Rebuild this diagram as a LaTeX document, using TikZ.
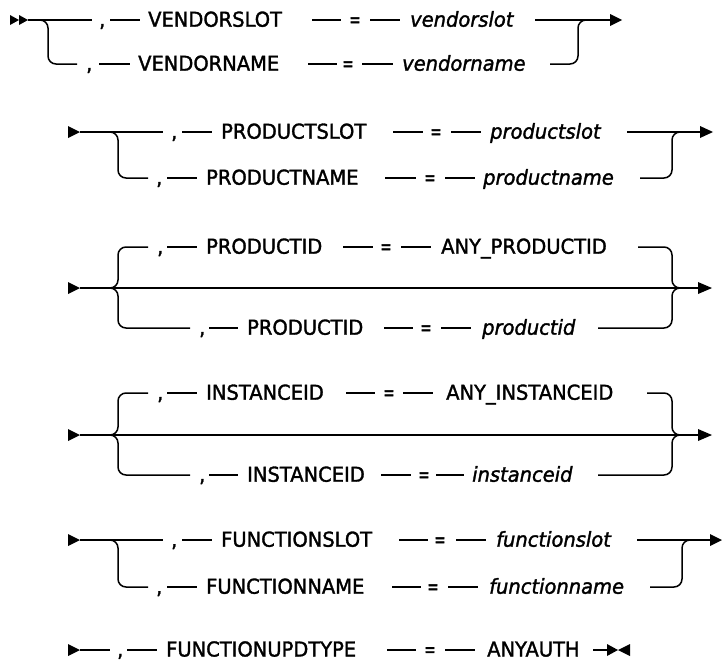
\documentclass[tikz,border=0pt]{standalone}
\usepackage{graphicx}
\usepackage{fontspec}
\newfontfamily\diag{DejaVu Sans}[FakeStretch=0.95,FakeBold=1.6]
\newcommand{\eqsign}{\scalebox{0.68}[1]{=}}
\begin{document}
\begin{tikzpicture}[x=1pt,y=-1pt,
  ln/.style={line width=1.5pt},
  seg/.style={line width=1.3pt},
  brl/.style={line width=1.5pt, rounded corners=8pt},
  txt/.style={anchor=base west, inner sep=0pt, font=\diag\fontsize{20.5}{24}\selectfont},
  itx/.style={anchor=base west, inner sep=0pt, font=\diag\fontsize{20.5}{24}\selectfont\itshape},
  eqs/.style={anchor=base, inner sep=0pt, font=\diag\fontsize{20.5}{24}\selectfont}]
\useasboundingbox (0,0) rectangle (722,662);

% ---------- Row 1 ----------
\fill (10,15) -- (19,20) -- (10,25) -- cycle;
\fill (19,15) -- (28,20) -- (19,25) -- cycle;
\draw[ln] (28,20) -- (92,20);
\draw[brl] (40,20) -| (48,64) -- (77,64);
\node[txt] (vsC) at (99,26.7) {,};
\draw[seg] (110,20) -- (140,20);
\node[txt] (vsK) at (148,26.7) {VENDORSLOT};
\draw[seg] (312,20) -- (341,20);
\node[eqs] (vsE) at (355,26.7) {\eqsign};
\draw[seg] (370,20) -- (400,20);
\node[itx] (vsV) at (410,26.7) {vendorslot};
\node[txt] (vnC) at (86,70.7) {,};
\draw[seg] (99,64) -- (130,64);
\node[txt] (vnK) at (138,70.7) {VENDORNAME};
\draw[seg] (308,64) -- (337,64);
\node[eqs] (vnE) at (348,70.7) {\eqsign};
\draw[seg] (362,64) -- (393,64);
\node[itx] (vnV) at (402,70.7) {vendorname};
\draw[ln] (535,20) -- (610,20);
\draw[brl] (550,64) -| (578,20) -- (590,20);
\fill (610,14) -- (622,20) -- (610,26) -- cycle;

% ---------- Row 2 ----------
\fill (68,126) -- (80,132) -- (68,138) -- cycle;
\draw[ln] (80,132) -- (163,132);
\draw[brl] (110,132) -| (118,178) -- (148,178);
\node[txt] (psC) at (171,138.7) {,};
\draw[seg] (182,132) -- (212,132);
\node[txt] (psK) at (221,138.7) {PRODUCTSLOT};
\draw[seg] (393,132) -- (423,132);
\node[eqs] (psE) at (436,138.7) {\eqsign};
\draw[seg] (451,132) -- (481,132);
\node[itx] (psV) at (490,138.7) {productslot};
\node[txt] (pnC) at (156,184.7) {,};
\draw[seg] (167,178) -- (197,178);
\node[txt] (pnK) at (206,184.7) {PRODUCTNAME};
\draw[seg] (385,178) -- (416,178);
\node[eqs] (pnE) at (430,184.7) {\eqsign};
\draw[seg] (445,178) -- (475,178);
\node[itx] (pnV) at (483,184.7) {productname};
\draw[ln] (627,132) -- (700,132);
\draw[brl] (640,178) -| (672,132) -- (684,132);
\fill (700,126) -- (713,132) -- (700,138) -- cycle;

% ---------- Row 3 ----------
\fill (68,282) -- (80,288) -- (68,294) -- cycle;
\draw[ln] (80,288) -- (698,288);
\draw[brl] (108,288) -| (118,247) -- (148,247);
\draw[brl] (108,288) -| (118,328) -- (190,328);
\node[txt] (piC) at (157,253.7) {,};
\draw[seg] (167,247) -- (197,247);
\node[txt] (piK) at (206,253.7) {PRODUCTID};
\draw[seg] (343,247) -- (373,247);
\node[eqs] (piE) at (386,253.7) {\eqsign};
\draw[seg] (401,247) -- (431,247);
\node[txt] (piV) at (441,253.7) {ANY\_PRODUCTID};
\node[txt] (pjC) at (199,334.7) {,};
\draw[seg] (209,328) -- (238,328);
\node[txt] (pjK) at (247,334.7) {PRODUCTID};
\draw[seg] (384,328) -- (413,328);
\node[eqs] (pjE) at (426,334.7) {\eqsign};
\draw[seg] (441,328) -- (471,328);
\node[itx] (pjV) at (482,334.7) {productid};
\draw[brl] (638,247) -| (672,288) -- (684,288);
\draw[brl] (598,328) -| (672,288) -- (684,288);
\fill (698,282) -- (712,288) -- (698,294) -- cycle;

% ---------- Row 4 ----------
\fill (68,429) -- (80,435) -- (68,441) -- cycle;
\draw[ln] (80,435) -- (698,435);
\draw[brl] (108,435) -| (118,393) -- (148,393);
\draw[brl] (108,435) -| (118,475) -- (190,475);
\node[txt] (iiC) at (157,399.7) {,};
\draw[seg] (167,393) -- (197,393);
\node[txt] (iiK) at (206,399.7) {INSTANCEID};
\draw[seg] (346,393) -- (375,393);
\node[eqs] (iiE) at (389,399.7) {\eqsign};
\draw[seg] (403,393) -- (433,393);
\node[txt] (iiV) at (446,399.7) {ANY\_INSTANCEID};
\node[txt] (ijC) at (199,481.7) {,};
\draw[seg] (209,475) -- (238,475);
\node[txt] (ijK) at (247,481.7) {INSTANCEID};
\draw[seg] (381,475) -- (411,475);
\node[eqs] (ijE) at (424,481.7) {\eqsign};
\draw[seg] (436,475) -- (464,475);
\node[itx] (ijV) at (472,481.7) {instanceid};
\draw[brl] (647,393) -| (672,435) -- (684,435);
\draw[brl] (598,475) -| (672,435) -- (684,435);
\fill (698,429) -- (712,435) -- (698,441) -- cycle;

% ---------- Row 5 ----------
\fill (68,534) -- (80,540) -- (68,546) -- cycle;
\draw[ln] (80,540) -- (163,540);
\draw[brl] (110,540) -| (118,587) -- (148,587);
\node[txt] (fsC) at (171,546.7) {,};
\draw[seg] (182,540) -- (212,540);
\node[txt] (fsK) at (221,546.7) {FUNCTIONSLOT};
\draw[seg] (399,540) -- (428,540);
\node[eqs] (fsE) at (440,546.7) {\eqsign};
\draw[seg] (456,540) -- (486,540);
\node[itx] (fsV) at (496,546.7) {functionslot};
\node[txt] (fnC) at (156,593.7) {,};
\draw[seg] (167,587) -- (197,587);
\node[txt] (fnK) at (206,593.7) {FUNCTIONNAME};
\draw[seg] (392,587) -- (421,587);
\node[eqs] (fnE) at (433,593.7) {\eqsign};
\draw[seg] (448,587) -- (478,587);
\node[itx] (fnV) at (489,593.7) {functionname};
\draw[ln] (637,540) -- (710,540);
\draw[brl] (650,587) -| (682,540) -- (694,540);
\fill (710,534) -- (722,540) -- (710,546) -- cycle;

% ---------- Row 6 ----------
\fill (68,644) -- (80,650) -- (68,656) -- cycle;
\draw[ln] (80,650) -- (110,650);
\node[txt] (fuC) at (117,656.5) {,};
\draw[seg] (127,650) -- (157,650);
\node[txt] (fuK) at (166,656.5) {FUNCTIONUPDTYPE};
\draw[seg] (387,650) -- (416,650);
\node[eqs] (fuE) at (430,656.5) {\eqsign};
\draw[seg] (445,650) -- (475,650);
\node[txt] (fuV) at (487,656.5) {ANYAUTH};
\draw[ln] (593,650) -- (607,650);
\fill (607,644) -- (618,650) -- (607,656) -- cycle;
\fill (630,644) -- (618,650) -- (630,656) -- cycle;
\end{tikzpicture}
\end{document}
